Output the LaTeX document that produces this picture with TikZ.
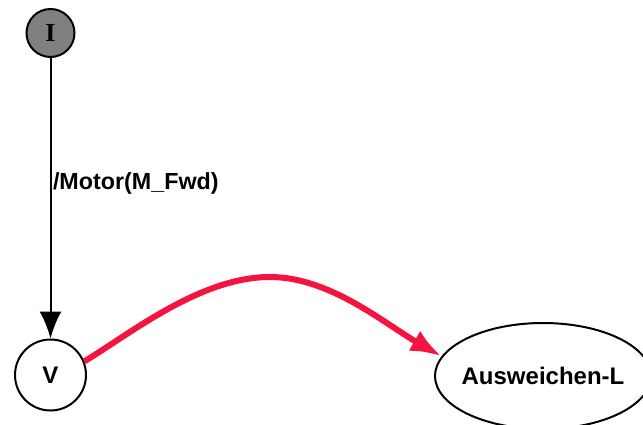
\documentclass[tikz,border=0pt]{standalone}
\usepackage{fontspec}
\setmainfont{Liberation Sans}
\newfontfamily\serifbold{Liberation Serif}
\usetikzlibrary{arrows.meta,shapes.geometric}
\definecolor{edgered}{HTML}{F5143F}
\definecolor{initgray}{HTML}{808080}
\tikzset{
  statecirc/.style={circle,draw=black,line width=2pt,inner sep=0pt,font=\fontsize{24}{26}\selectfont\bfseries},
  stateell/.style={ellipse,draw=black,line width=2pt,inner xsep=-5pt,inner ysep=0pt,font=\fontsize{24}{26}\selectfont\bfseries},
  edgelbl/.style={font=\fontsize{23.3}{25}\selectfont\bfseries,inner sep=0pt},
  blackedge/.style={draw=black,line width=2pt,-{Latex[length=27pt,width=22pt]}},
  rededge/.style={draw=edgered,line width=6pt,-{Latex[length=31pt,width=23pt]}}
}
\begin{document}
\begin{tikzpicture}[x=1pt,y=1pt]
\clip (0,0) rectangle (643,424);
\fill[white] (0,0) rectangle (643,424);
\node[statecirc,fill=initgray,minimum size=48pt,font=\fontsize{26}{28}\serifbold\bfseries] (I) at (50.5,391) {I};
\node[statecirc,minimum size=71pt] (V) at (50.5,49) {V};
\node[stateell,minimum width=216pt,minimum height=106pt] (A) at (543,48) {Ausweichen-L};
\draw[blackedge] (I.south) -- (V.north) node[pos=0.446,right=1.5pt,edgelbl] {/Motor(M\_Fwd)};
\draw[rededge] (V.22) .. controls (130,90) and (200,147) .. (270,147)
  .. controls (330,147) and (385,100) .. (A.169);
\end{tikzpicture}
\end{document}
